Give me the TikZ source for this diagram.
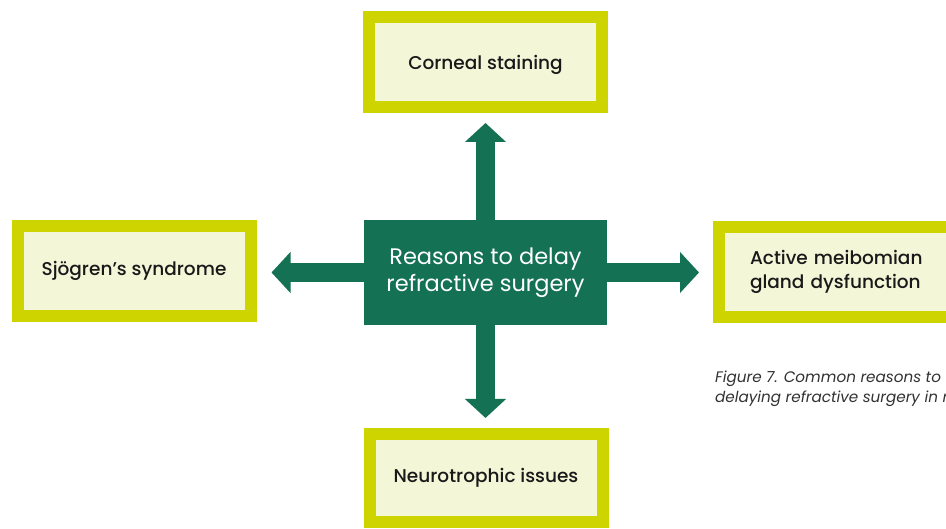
\documentclass[tikz,border=0pt]{standalone}
\usepackage{fontspec}
\setmainfont{Poppins}
\newfontfamily\boxfont{Poppins Medium}
\usetikzlibrary{arrows.meta}
\definecolor{delaygreen}{RGB}{21,113,83}
\definecolor{limeedge}{RGB}{205,212,0}
\definecolor{creamfill}{RGB}{244,246,216}
\definecolor{captiongray}{RGB}{50,50,50}
\tikzset{
  reasonbox/.style={draw=limeedge, line width=12pt, fill=creamfill, inner sep=0pt,
    minimum width=233pt, minimum height=90pt, font=\boxfont\fontsize{18.5}{24}\selectfont, text=black!90},
  centrebox/.style={fill=delaygreen, text=white, inner sep=0pt, align=center,
    minimum width=243pt, minimum height=105pt, font=\fontsize{22.5}{27}\selectfont},
  fatarrow/.style={draw=delaygreen, line width=19pt, -{Triangle[width=40pt,length=19pt]}}
}
\begin{document}
\begin{tikzpicture}[x=1pt,y=-1pt]
\clip (0,0) rectangle (946,529);
\fill[white] (0,0) rectangle (946,529);
% middle
\node[centrebox] (reasons) at (485.5,272.5) {Reasons to delay\\refractive surgery};
% the four reasons
\node[reasonbox] (corneal) at (485.5,62) [text depth=-3pt] {Corneal staining};
\node[reasonbox] (sjogren) at (134,271) {Sjögren’s syndrome};
\node[reasonbox] (neuro) at (486,478) [minimum height=88pt] {Neurotrophic issues};
\node[reasonbox, anchor=west, text width=200pt, align=left, inner xsep=31pt] (meibom) at (713,272)
  {Active meibomian\\gland dysfunction};
% arrows
\draw[fatarrow, shorten >=10pt] (reasons.north) -- (reasons.north |- corneal.south);
\draw[fatarrow, shorten >=10pt] (reasons.south) -- (reasons.south |- neuro.north);
\draw[fatarrow, shorten >=15pt] (reasons.west) -- (reasons.west -| sjogren.east);
\draw[fatarrow, shorten >=14pt] (reasons.east) -- (reasons.east -| meibom.west);
% caption
\node[anchor=north west, align=left, inner sep=0pt, text=captiongray,
  font=\itshape\fontsize{15.2}{20}\selectfont] (caption) at (715,371)
  {Figure 7. Common reasons to c\\delaying refractive surgery in r};
\end{tikzpicture}
\end{document}
